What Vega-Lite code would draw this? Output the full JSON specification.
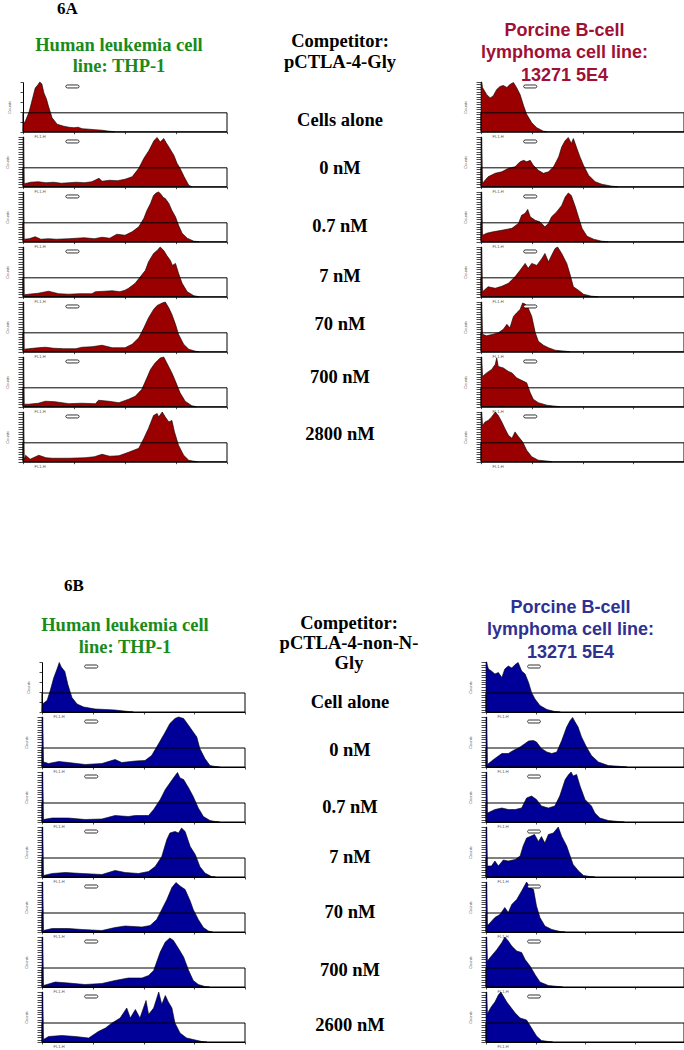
{
"$schema":"https://vega.github.io/schema/vega-lite/v6.json",
"padding":{"left":5,"top":0,"right":0,"bottom":0},
"background":"white",
"config":{
"view":{"stroke":null},
"font":"Liberation Sans",
"axis":{"labels":false,"grid":false,"domainColor":"#000","domainWidth":1,"tickColor":"#000","tickWidth":0.7,"titleFont":"Liberation Sans","titleFontSize":4,"titleFontWeight":"normal","titleColor":"#555"},
"axisX":{"tickCount":4,"tickSize":2,"titlePadding":0,"titleX":11,"titleAlign":"left"},
"axisY":{"tickCount":25,"tickSize":5,"titlePadding":8},
"title":{"font":"Liberation Serif","fontWeight":"bold","fontSize":18.5,"anchor":"middle","frame":"group","color":"#000"},
"text":{"font":"Liberation Serif","fontWeight":"bold","fontSize":18.5,"color":"#000"}
},
"datasets":{
"g":[{"gate":"M1"}],
"h":[
{"p":"AL1","x":0,"y":0},{"p":"AL1","x":0.01,"y":16},{"p":"AL1","x":0.05,"y":22},{"p":"AL1","x":0.12,"y":40},{"p":"AL1","x":0.18,"y":64},{"p":"AL1","x":0.24,"y":88},{"p":"AL1","x":0.29,"y":94},{"p":"AL1","x":0.33,"y":100},{"p":"AL1","x":0.37,"y":96},{"p":"AL1","x":0.41,"y":78},{"p":"AL1","x":0.46,"y":66},{"p":"AL1","x":0.5,"y":51},{"p":"AL1","x":0.57,"y":28},{"p":"AL1","x":0.67,"y":15},{"p":"AL1","x":0.8,"y":11},{"p":"AL1","x":0.9,"y":9},{"p":"AL1","x":1.0,"y":8},{"p":"AL1","x":1.08,"y":9},{"p":"AL1","x":1.16,"y":6},{"p":"AL1","x":1.3,"y":5},{"p":"AL1","x":1.42,"y":4},{"p":"AL1","x":1.55,"y":3},{"p":"AL1","x":1.69,"y":1},{"p":"AL1","x":1.8,"y":0},
{"p":"AL2","x":0,"y":100},{"p":"AL2","x":0.015,"y":100},{"p":"AL2","x":0.025,"y":6},{"p":"AL2","x":0.15,"y":9},{"p":"AL2","x":0.3,"y":10},{"p":"AL2","x":0.45,"y":8},{"p":"AL2","x":0.6,"y":9},{"p":"AL2","x":0.75,"y":7},{"p":"AL2","x":0.9,"y":8},{"p":"AL2","x":1.05,"y":9},{"p":"AL2","x":1.2,"y":8},{"p":"AL2","x":1.35,"y":10},{"p":"AL2","x":1.49,"y":17},{"p":"AL2","x":1.55,"y":11},{"p":"AL2","x":1.7,"y":13},{"p":"AL2","x":1.85,"y":12},{"p":"AL2","x":2.0,"y":15},{"p":"AL2","x":2.14,"y":20},{"p":"AL2","x":2.27,"y":37},{"p":"AL2","x":2.37,"y":57},{"p":"AL2","x":2.47,"y":73},{"p":"AL2","x":2.57,"y":93},{"p":"AL2","x":2.63,"y":99},{"p":"AL2","x":2.69,"y":90},{"p":"AL2","x":2.76,"y":97},{"p":"AL2","x":2.81,"y":88},{"p":"AL2","x":2.86,"y":80},{"p":"AL2","x":2.96,"y":63},{"p":"AL2","x":3.02,"y":47},{"p":"AL2","x":3.08,"y":37},{"p":"AL2","x":3.16,"y":20},{"p":"AL2","x":3.25,"y":3},{"p":"AL2","x":3.31,"y":0},
{"p":"AL3","x":0,"y":100},{"p":"AL3","x":0.015,"y":100},{"p":"AL3","x":0.025,"y":5},{"p":"AL3","x":0.12,"y":6},{"p":"AL3","x":0.24,"y":10},{"p":"AL3","x":0.35,"y":5},{"p":"AL3","x":0.5,"y":6},{"p":"AL3","x":0.65,"y":5},{"p":"AL3","x":0.9,"y":6},{"p":"AL3","x":1.05,"y":7},{"p":"AL3","x":1.2,"y":8},{"p":"AL3","x":1.4,"y":6},{"p":"AL3","x":1.55,"y":9},{"p":"AL3","x":1.7,"y":7},{"p":"AL3","x":1.84,"y":15},{"p":"AL3","x":2.0,"y":13},{"p":"AL3","x":2.14,"y":20},{"p":"AL3","x":2.27,"y":30},{"p":"AL3","x":2.37,"y":47},{"p":"AL3","x":2.43,"y":63},{"p":"AL3","x":2.5,"y":77},{"p":"AL3","x":2.56,"y":93},{"p":"AL3","x":2.61,"y":98},{"p":"AL3","x":2.66,"y":100},{"p":"AL3","x":2.71,"y":95},{"p":"AL3","x":2.75,"y":89},{"p":"AL3","x":2.79,"y":87},{"p":"AL3","x":2.86,"y":77},{"p":"AL3","x":2.92,"y":63},{"p":"AL3","x":2.99,"y":50},{"p":"AL3","x":3.05,"y":33},{"p":"AL3","x":3.12,"y":17},{"p":"AL3","x":3.22,"y":7},{"p":"AL3","x":3.35,"y":1},{"p":"AL3","x":3.45,"y":0},
{"p":"AL4","x":0,"y":100},{"p":"AL4","x":0.015,"y":100},{"p":"AL4","x":0.025,"y":4},{"p":"AL4","x":0.11,"y":5},{"p":"AL4","x":0.3,"y":7},{"p":"AL4","x":0.5,"y":11},{"p":"AL4","x":0.7,"y":6},{"p":"AL4","x":0.9,"y":5},{"p":"AL4","x":1.1,"y":6},{"p":"AL4","x":1.35,"y":6},{"p":"AL4","x":1.42,"y":10},{"p":"AL4","x":1.6,"y":11},{"p":"AL4","x":1.75,"y":12},{"p":"AL4","x":1.9,"y":10},{"p":"AL4","x":2.0,"y":13},{"p":"AL4","x":2.07,"y":17},{"p":"AL4","x":2.2,"y":27},{"p":"AL4","x":2.3,"y":40},{"p":"AL4","x":2.4,"y":53},{"p":"AL4","x":2.46,"y":70},{"p":"AL4","x":2.56,"y":87},{"p":"AL4","x":2.63,"y":93},{"p":"AL4","x":2.69,"y":100},{"p":"AL4","x":2.76,"y":93},{"p":"AL4","x":2.82,"y":83},{"p":"AL4","x":2.89,"y":73},{"p":"AL4","x":2.93,"y":63},{"p":"AL4","x":2.99,"y":67},{"p":"AL4","x":3.05,"y":47},{"p":"AL4","x":3.12,"y":27},{"p":"AL4","x":3.22,"y":10},{"p":"AL4","x":3.35,"y":2},{"p":"AL4","x":3.45,"y":0},
{"p":"AL5","x":0,"y":100},{"p":"AL5","x":0.015,"y":100},{"p":"AL5","x":0.025,"y":5},{"p":"AL5","x":0.11,"y":6},{"p":"AL5","x":0.3,"y":8},{"p":"AL5","x":0.44,"y":9},{"p":"AL5","x":0.6,"y":7},{"p":"AL5","x":0.8,"y":6},{"p":"AL5","x":1.03,"y":6},{"p":"AL5","x":1.16,"y":9},{"p":"AL5","x":1.35,"y":10},{"p":"AL5","x":1.55,"y":13},{"p":"AL5","x":1.75,"y":8},{"p":"AL5","x":2.0,"y":8},{"p":"AL5","x":2.14,"y":15},{"p":"AL5","x":2.27,"y":28},{"p":"AL5","x":2.37,"y":48},{"p":"AL5","x":2.46,"y":68},{"p":"AL5","x":2.56,"y":85},{"p":"AL5","x":2.63,"y":93},{"p":"AL5","x":2.73,"y":98},{"p":"AL5","x":2.79,"y":100},{"p":"AL5","x":2.86,"y":88},{"p":"AL5","x":2.92,"y":75},{"p":"AL5","x":2.99,"y":55},{"p":"AL5","x":3.05,"y":35},{"p":"AL5","x":3.15,"y":15},{"p":"AL5","x":3.25,"y":5},{"p":"AL5","x":3.38,"y":1},{"p":"AL5","x":3.45,"y":0},
{"p":"AL6","x":0,"y":100},{"p":"AL6","x":0.015,"y":100},{"p":"AL6","x":0.025,"y":5},{"p":"AL6","x":0.11,"y":5},{"p":"AL6","x":0.3,"y":7},{"p":"AL6","x":0.44,"y":11},{"p":"AL6","x":0.63,"y":10},{"p":"AL6","x":0.9,"y":6},{"p":"AL6","x":1.15,"y":7},{"p":"AL6","x":1.42,"y":6},{"p":"AL6","x":1.48,"y":13},{"p":"AL6","x":1.68,"y":11},{"p":"AL6","x":1.88,"y":8},{"p":"AL6","x":2.07,"y":15},{"p":"AL6","x":2.2,"y":21},{"p":"AL6","x":2.33,"y":35},{"p":"AL6","x":2.43,"y":58},{"p":"AL6","x":2.5,"y":75},{"p":"AL6","x":2.59,"y":88},{"p":"AL6","x":2.69,"y":98},{"p":"AL6","x":2.76,"y":100},{"p":"AL6","x":2.82,"y":88},{"p":"AL6","x":2.92,"y":68},{"p":"AL6","x":2.99,"y":51},{"p":"AL6","x":3.08,"y":28},{"p":"AL6","x":3.18,"y":11},{"p":"AL6","x":3.31,"y":2},{"p":"AL6","x":3.4,"y":0},
{"p":"AL7","x":0,"y":100},{"p":"AL7","x":0.015,"y":100},{"p":"AL7","x":0.025,"y":4},{"p":"AL7","x":0.05,"y":13},{"p":"AL7","x":0.14,"y":5},{"p":"AL7","x":0.31,"y":13},{"p":"AL7","x":0.45,"y":8},{"p":"AL7","x":0.57,"y":7},{"p":"AL7","x":0.9,"y":7},{"p":"AL7","x":1.22,"y":8},{"p":"AL7","x":1.4,"y":10},{"p":"AL7","x":1.55,"y":15},{"p":"AL7","x":1.7,"y":11},{"p":"AL7","x":1.88,"y":12},{"p":"AL7","x":2.07,"y":19},{"p":"AL7","x":2.27,"y":27},{"p":"AL7","x":2.37,"y":47},{"p":"AL7","x":2.46,"y":67},{"p":"AL7","x":2.56,"y":93},{"p":"AL7","x":2.63,"y":97},{"p":"AL7","x":2.66,"y":90},{"p":"AL7","x":2.73,"y":100},{"p":"AL7","x":2.79,"y":90},{"p":"AL7","x":2.86,"y":80},{"p":"AL7","x":2.92,"y":83},{"p":"AL7","x":2.97,"y":60},{"p":"AL7","x":3.05,"y":33},{"p":"AL7","x":3.15,"y":13},{"p":"AL7","x":3.25,"y":3},{"p":"AL7","x":3.35,"y":1},{"p":"AL7","x":3.42,"y":0},
{"p":"AR1","x":0,"y":100},{"p":"AR1","x":0.015,"y":100},{"p":"AR1","x":0.03,"y":89},{"p":"AR1","x":0.11,"y":75},{"p":"AR1","x":0.18,"y":68},{"p":"AR1","x":0.24,"y":72},{"p":"AR1","x":0.31,"y":85},{"p":"AR1","x":0.375,"y":91},{"p":"AR1","x":0.44,"y":93},{"p":"AR1","x":0.51,"y":89},{"p":"AR1","x":0.57,"y":95},{"p":"AR1","x":0.64,"y":99},{"p":"AR1","x":0.7,"y":89},{"p":"AR1","x":0.77,"y":75},{"p":"AR1","x":0.84,"y":52},{"p":"AR1","x":0.9,"y":35},{"p":"AR1","x":1.0,"y":18},{"p":"AR1","x":1.1,"y":8},{"p":"AR1","x":1.23,"y":1},{"p":"AR1","x":1.3,"y":0},
{"p":"AR2","x":0,"y":100},{"p":"AR2","x":0.015,"y":100},{"p":"AR2","x":0.03,"y":7},{"p":"AR2","x":0.14,"y":20},{"p":"AR2","x":0.28,"y":27},{"p":"AR2","x":0.41,"y":30},{"p":"AR2","x":0.54,"y":37},{"p":"AR2","x":0.67,"y":40},{"p":"AR2","x":0.77,"y":50},{"p":"AR2","x":0.84,"y":53},{"p":"AR2","x":0.9,"y":50},{"p":"AR2","x":0.97,"y":53},{"p":"AR2","x":1.03,"y":43},{"p":"AR2","x":1.13,"y":33},{"p":"AR2","x":1.23,"y":27},{"p":"AR2","x":1.33,"y":30},{"p":"AR2","x":1.43,"y":40},{"p":"AR2","x":1.53,"y":60},{"p":"AR2","x":1.59,"y":80},{"p":"AR2","x":1.66,"y":93},{"p":"AR2","x":1.72,"y":99},{"p":"AR2","x":1.78,"y":87},{"p":"AR2","x":1.82,"y":97},{"p":"AR2","x":1.89,"y":77},{"p":"AR2","x":1.95,"y":60},{"p":"AR2","x":2.02,"y":43},{"p":"AR2","x":2.12,"y":23},{"p":"AR2","x":2.25,"y":10},{"p":"AR2","x":2.38,"y":5},{"p":"AR2","x":2.58,"y":1},{"p":"AR2","x":2.7,"y":0},
{"p":"AR3","x":0,"y":100},{"p":"AR3","x":0.015,"y":100},{"p":"AR3","x":0.03,"y":13},{"p":"AR3","x":0.11,"y":17},{"p":"AR3","x":0.24,"y":20},{"p":"AR3","x":0.41,"y":23},{"p":"AR3","x":0.61,"y":27},{"p":"AR3","x":0.74,"y":37},{"p":"AR3","x":0.8,"y":53},{"p":"AR3","x":0.87,"y":57},{"p":"AR3","x":0.92,"y":65},{"p":"AR3","x":0.97,"y":50},{"p":"AR3","x":1.07,"y":43},{"p":"AR3","x":1.16,"y":40},{"p":"AR3","x":1.26,"y":30},{"p":"AR3","x":1.33,"y":37},{"p":"AR3","x":1.39,"y":50},{"p":"AR3","x":1.49,"y":60},{"p":"AR3","x":1.59,"y":73},{"p":"AR3","x":1.66,"y":90},{"p":"AR3","x":1.72,"y":98},{"p":"AR3","x":1.78,"y":93},{"p":"AR3","x":1.86,"y":70},{"p":"AR3","x":1.92,"y":50},{"p":"AR3","x":1.99,"y":27},{"p":"AR3","x":2.09,"y":11},{"p":"AR3","x":2.22,"y":5},{"p":"AR3","x":2.38,"y":1},{"p":"AR3","x":2.5,"y":0},
{"p":"AR4","x":0,"y":100},{"p":"AR4","x":0.015,"y":100},{"p":"AR4","x":0.03,"y":10},{"p":"AR4","x":0.14,"y":20},{"p":"AR4","x":0.28,"y":17},{"p":"AR4","x":0.41,"y":21},{"p":"AR4","x":0.54,"y":27},{"p":"AR4","x":0.67,"y":40},{"p":"AR4","x":0.77,"y":53},{"p":"AR4","x":0.87,"y":67},{"p":"AR4","x":0.93,"y":57},{"p":"AR4","x":1.0,"y":67},{"p":"AR4","x":1.1,"y":63},{"p":"AR4","x":1.2,"y":77},{"p":"AR4","x":1.26,"y":87},{"p":"AR4","x":1.33,"y":70},{"p":"AR4","x":1.39,"y":83},{"p":"AR4","x":1.46,"y":97},{"p":"AR4","x":1.51,"y":100},{"p":"AR4","x":1.59,"y":87},{"p":"AR4","x":1.69,"y":67},{"p":"AR4","x":1.76,"y":43},{"p":"AR4","x":1.82,"y":20},{"p":"AR4","x":1.92,"y":13},{"p":"AR4","x":2.02,"y":5},{"p":"AR4","x":2.18,"y":1},{"p":"AR4","x":2.3,"y":0},
{"p":"AR5","x":0,"y":100},{"p":"AR5","x":0.015,"y":100},{"p":"AR5","x":0.03,"y":35},{"p":"AR5","x":0.11,"y":32},{"p":"AR5","x":0.24,"y":35},{"p":"AR5","x":0.34,"y":38},{"p":"AR5","x":0.44,"y":45},{"p":"AR5","x":0.51,"y":55},{"p":"AR5","x":0.57,"y":48},{"p":"AR5","x":0.64,"y":71},{"p":"AR5","x":0.7,"y":78},{"p":"AR5","x":0.77,"y":85},{"p":"AR5","x":0.82,"y":98},{"p":"AR5","x":0.87,"y":96},{"p":"AR5","x":0.93,"y":88},{"p":"AR5","x":1.0,"y":71},{"p":"AR5","x":1.07,"y":38},{"p":"AR5","x":1.13,"y":21},{"p":"AR5","x":1.23,"y":13},{"p":"AR5","x":1.33,"y":8},{"p":"AR5","x":1.46,"y":3},{"p":"AR5","x":1.66,"y":1},{"p":"AR5","x":1.75,"y":0},
{"p":"AR6","x":0,"y":100},{"p":"AR6","x":0.015,"y":100},{"p":"AR6","x":0.03,"y":61},{"p":"AR6","x":0.11,"y":68},{"p":"AR6","x":0.21,"y":75},{"p":"AR6","x":0.28,"y":85},{"p":"AR6","x":0.31,"y":98},{"p":"AR6","x":0.34,"y":81},{"p":"AR6","x":0.44,"y":78},{"p":"AR6","x":0.54,"y":71},{"p":"AR6","x":0.61,"y":68},{"p":"AR6","x":0.7,"y":58},{"p":"AR6","x":0.8,"y":53},{"p":"AR6","x":0.9,"y":48},{"p":"AR6","x":0.97,"y":28},{"p":"AR6","x":1.03,"y":15},{"p":"AR6","x":1.13,"y":8},{"p":"AR6","x":1.3,"y":3},{"p":"AR6","x":1.46,"y":1},{"p":"AR6","x":1.55,"y":0},
{"p":"AR7","x":0,"y":100},{"p":"AR7","x":0.015,"y":100},{"p":"AR7","x":0.03,"y":73},{"p":"AR7","x":0.08,"y":80},{"p":"AR7","x":0.14,"y":83},{"p":"AR7","x":0.21,"y":90},{"p":"AR7","x":0.28,"y":100},{"p":"AR7","x":0.34,"y":93},{"p":"AR7","x":0.41,"y":80},{"p":"AR7","x":0.47,"y":67},{"p":"AR7","x":0.54,"y":53},{"p":"AR7","x":0.61,"y":47},{"p":"AR7","x":0.67,"y":60},{"p":"AR7","x":0.74,"y":50},{"p":"AR7","x":0.82,"y":40},{"p":"AR7","x":0.9,"y":23},{"p":"AR7","x":1.0,"y":10},{"p":"AR7","x":1.13,"y":3},{"p":"AR7","x":1.33,"y":1},{"p":"AR7","x":1.4,"y":0},
{"p":"BL1","x":0,"y":0},{"p":"BL1","x":0.01,"y":16},{"p":"BL1","x":0.1,"y":23},{"p":"BL1","x":0.16,"y":42},{"p":"BL1","x":0.23,"y":68},{"p":"BL1","x":0.3,"y":87},{"p":"BL1","x":0.34,"y":99},{"p":"BL1","x":0.38,"y":90},{"p":"BL1","x":0.45,"y":81},{"p":"BL1","x":0.51,"y":55},{"p":"BL1","x":0.59,"y":29},{"p":"BL1","x":0.69,"y":16},{"p":"BL1","x":0.82,"y":10},{"p":"BL1","x":1.05,"y":6},{"p":"BL1","x":1.25,"y":5},{"p":"BL1","x":1.44,"y":4},{"p":"BL1","x":1.7,"y":1},{"p":"BL1","x":1.8,"y":0},
{"p":"BL2","x":0,"y":100},{"p":"BL2","x":0.015,"y":100},{"p":"BL2","x":0.03,"y":10},{"p":"BL2","x":0.13,"y":7},{"p":"BL2","x":0.33,"y":11},{"p":"BL2","x":0.52,"y":9},{"p":"BL2","x":0.85,"y":5},{"p":"BL2","x":1.18,"y":7},{"p":"BL2","x":1.44,"y":15},{"p":"BL2","x":1.57,"y":9},{"p":"BL2","x":1.84,"y":12},{"p":"BL2","x":2.03,"y":13},{"p":"BL2","x":2.16,"y":23},{"p":"BL2","x":2.3,"y":47},{"p":"BL2","x":2.43,"y":70},{"p":"BL2","x":2.52,"y":87},{"p":"BL2","x":2.62,"y":97},{"p":"BL2","x":2.69,"y":100},{"p":"BL2","x":2.79,"y":97},{"p":"BL2","x":2.89,"y":83},{"p":"BL2","x":2.98,"y":70},{"p":"BL2","x":3.05,"y":60},{"p":"BL2","x":3.11,"y":37},{"p":"BL2","x":3.21,"y":17},{"p":"BL2","x":3.31,"y":3},{"p":"BL2","x":3.41,"y":1},{"p":"BL2","x":3.5,"y":0},
{"p":"BL3","x":0,"y":100},{"p":"BL3","x":0.015,"y":100},{"p":"BL3","x":0.03,"y":5},{"p":"BL3","x":0.2,"y":8},{"p":"BL3","x":0.52,"y":8},{"p":"BL3","x":0.85,"y":5},{"p":"BL3","x":1.18,"y":6},{"p":"BL3","x":1.44,"y":13},{"p":"BL3","x":1.7,"y":11},{"p":"BL3","x":1.84,"y":13},{"p":"BL3","x":2.1,"y":13},{"p":"BL3","x":2.2,"y":25},{"p":"BL3","x":2.33,"y":45},{"p":"BL3","x":2.43,"y":65},{"p":"BL3","x":2.52,"y":78},{"p":"BL3","x":2.61,"y":91},{"p":"BL3","x":2.67,"y":99},{"p":"BL3","x":2.72,"y":88},{"p":"BL3","x":2.79,"y":85},{"p":"BL3","x":2.89,"y":68},{"p":"BL3","x":2.98,"y":51},{"p":"BL3","x":3.08,"y":28},{"p":"BL3","x":3.18,"y":11},{"p":"BL3","x":3.31,"y":3},{"p":"BL3","x":3.41,"y":1},{"p":"BL3","x":3.5,"y":0},
{"p":"BL4","x":0,"y":100},{"p":"BL4","x":0.015,"y":100},{"p":"BL4","x":0.03,"y":3},{"p":"BL4","x":0.2,"y":7},{"p":"BL4","x":0.46,"y":9},{"p":"BL4","x":0.79,"y":7},{"p":"BL4","x":1.18,"y":5},{"p":"BL4","x":1.44,"y":13},{"p":"BL4","x":1.64,"y":9},{"p":"BL4","x":1.9,"y":7},{"p":"BL4","x":2.1,"y":11},{"p":"BL4","x":2.23,"y":21},{"p":"BL4","x":2.36,"y":41},{"p":"BL4","x":2.46,"y":75},{"p":"BL4","x":2.52,"y":88},{"p":"BL4","x":2.62,"y":91},{"p":"BL4","x":2.69,"y":88},{"p":"BL4","x":2.75,"y":98},{"p":"BL4","x":2.82,"y":91},{"p":"BL4","x":2.92,"y":61},{"p":"BL4","x":3.02,"y":45},{"p":"BL4","x":3.11,"y":21},{"p":"BL4","x":3.21,"y":8},{"p":"BL4","x":3.34,"y":1},{"p":"BL4","x":3.42,"y":0},
{"p":"BL5","x":0,"y":100},{"p":"BL5","x":0.015,"y":100},{"p":"BL5","x":0.03,"y":3},{"p":"BL5","x":0.2,"y":7},{"p":"BL5","x":0.52,"y":7},{"p":"BL5","x":0.79,"y":5},{"p":"BL5","x":1.18,"y":3},{"p":"BL5","x":1.44,"y":9},{"p":"BL5","x":1.64,"y":12},{"p":"BL5","x":1.97,"y":10},{"p":"BL5","x":2.13,"y":13},{"p":"BL5","x":2.26,"y":25},{"p":"BL5","x":2.36,"y":45},{"p":"BL5","x":2.46,"y":65},{"p":"BL5","x":2.56,"y":89},{"p":"BL5","x":2.64,"y":99},{"p":"BL5","x":2.72,"y":92},{"p":"BL5","x":2.82,"y":85},{"p":"BL5","x":2.92,"y":62},{"p":"BL5","x":2.98,"y":45},{"p":"BL5","x":3.08,"y":25},{"p":"BL5","x":3.18,"y":9},{"p":"BL5","x":3.28,"y":2},{"p":"BL5","x":3.36,"y":0},
{"p":"BL6","x":0,"y":100},{"p":"BL6","x":0.015,"y":100},{"p":"BL6","x":0.03,"y":3},{"p":"BL6","x":0.26,"y":10},{"p":"BL6","x":0.52,"y":8},{"p":"BL6","x":0.85,"y":5},{"p":"BL6","x":1.18,"y":7},{"p":"BL6","x":1.44,"y":13},{"p":"BL6","x":1.7,"y":18},{"p":"BL6","x":1.97,"y":18},{"p":"BL6","x":2.1,"y":23},{"p":"BL6","x":2.2,"y":33},{"p":"BL6","x":2.26,"y":50},{"p":"BL6","x":2.33,"y":70},{"p":"BL6","x":2.43,"y":90},{"p":"BL6","x":2.52,"y":98},{"p":"BL6","x":2.59,"y":93},{"p":"BL6","x":2.69,"y":77},{"p":"BL6","x":2.79,"y":60},{"p":"BL6","x":2.89,"y":33},{"p":"BL6","x":2.98,"y":13},{"p":"BL6","x":3.08,"y":5},{"p":"BL6","x":3.21,"y":1},{"p":"BL6","x":3.3,"y":0},
{"p":"BL7","x":0,"y":100},{"p":"BL7","x":0.015,"y":100},{"p":"BL7","x":0.03,"y":5},{"p":"BL7","x":0.13,"y":11},{"p":"BL7","x":0.39,"y":13},{"p":"BL7","x":0.66,"y":11},{"p":"BL7","x":0.92,"y":8},{"p":"BL7","x":1.11,"y":21},{"p":"BL7","x":1.25,"y":28},{"p":"BL7","x":1.38,"y":38},{"p":"BL7","x":1.54,"y":48},{"p":"BL7","x":1.67,"y":68},{"p":"BL7","x":1.74,"y":48},{"p":"BL7","x":1.84,"y":65},{"p":"BL7","x":1.93,"y":48},{"p":"BL7","x":2.05,"y":83},{"p":"BL7","x":2.1,"y":55},{"p":"BL7","x":2.2,"y":68},{"p":"BL7","x":2.3,"y":100},{"p":"BL7","x":2.36,"y":75},{"p":"BL7","x":2.43,"y":93},{"p":"BL7","x":2.49,"y":80},{"p":"BL7","x":2.56,"y":68},{"p":"BL7","x":2.62,"y":38},{"p":"BL7","x":2.72,"y":18},{"p":"BL7","x":2.85,"y":8},{"p":"BL7","x":2.98,"y":5},{"p":"BL7","x":3.15,"y":1},{"p":"BL7","x":3.25,"y":0},
{"p":"BR1","x":0,"y":100},{"p":"BR1","x":0.015,"y":100},{"p":"BR1","x":0.03,"y":92},{"p":"BR1","x":0.05,"y":86},{"p":"BR1","x":0.11,"y":82},{"p":"BR1","x":0.18,"y":76},{"p":"BR1","x":0.25,"y":79},{"p":"BR1","x":0.32,"y":69},{"p":"BR1","x":0.38,"y":86},{"p":"BR1","x":0.45,"y":92},{"p":"BR1","x":0.52,"y":88},{"p":"BR1","x":0.59,"y":95},{"p":"BR1","x":0.65,"y":99},{"p":"BR1","x":0.72,"y":82},{"p":"BR1","x":0.79,"y":76},{"p":"BR1","x":0.86,"y":59},{"p":"BR1","x":0.92,"y":39},{"p":"BR1","x":0.99,"y":26},{"p":"BR1","x":1.09,"y":13},{"p":"BR1","x":1.23,"y":5},{"p":"BR1","x":1.39,"y":1},{"p":"BR1","x":1.5,"y":0},
{"p":"BR2","x":0,"y":100},{"p":"BR2","x":0.015,"y":100},{"p":"BR2","x":0.03,"y":5},{"p":"BR2","x":0.05,"y":7},{"p":"BR2","x":0.18,"y":17},{"p":"BR2","x":0.32,"y":27},{"p":"BR2","x":0.45,"y":27},{"p":"BR2","x":0.55,"y":33},{"p":"BR2","x":0.69,"y":40},{"p":"BR2","x":0.79,"y":47},{"p":"BR2","x":0.86,"y":52},{"p":"BR2","x":0.96,"y":53},{"p":"BR2","x":1.02,"y":50},{"p":"BR2","x":1.12,"y":37},{"p":"BR2","x":1.23,"y":30},{"p":"BR2","x":1.33,"y":27},{"p":"BR2","x":1.43,"y":30},{"p":"BR2","x":1.53,"y":53},{"p":"BR2","x":1.63,"y":80},{"p":"BR2","x":1.7,"y":93},{"p":"BR2","x":1.75,"y":99},{"p":"BR2","x":1.8,"y":90},{"p":"BR2","x":1.86,"y":80},{"p":"BR2","x":1.93,"y":60},{"p":"BR2","x":2.03,"y":40},{"p":"BR2","x":2.13,"y":23},{"p":"BR2","x":2.27,"y":10},{"p":"BR2","x":2.47,"y":3},{"p":"BR2","x":2.74,"y":1},{"p":"BR2","x":2.85,"y":0},
{"p":"BR3","x":0,"y":100},{"p":"BR3","x":0.015,"y":100},{"p":"BR3","x":0.03,"y":18},{"p":"BR3","x":0.18,"y":25},{"p":"BR3","x":0.32,"y":28},{"p":"BR3","x":0.45,"y":25},{"p":"BR3","x":0.59,"y":25},{"p":"BR3","x":0.72,"y":28},{"p":"BR3","x":0.82,"y":48},{"p":"BR3","x":0.92,"y":52},{"p":"BR3","x":1.02,"y":45},{"p":"BR3","x":1.12,"y":32},{"p":"BR3","x":1.26,"y":28},{"p":"BR3","x":1.39,"y":32},{"p":"BR3","x":1.49,"y":52},{"p":"BR3","x":1.6,"y":85},{"p":"BR3","x":1.67,"y":95},{"p":"BR3","x":1.72,"y":100},{"p":"BR3","x":1.76,"y":92},{"p":"BR3","x":1.83,"y":95},{"p":"BR3","x":1.9,"y":72},{"p":"BR3","x":2.0,"y":45},{"p":"BR3","x":2.13,"y":32},{"p":"BR3","x":2.2,"y":18},{"p":"BR3","x":2.3,"y":8},{"p":"BR3","x":2.47,"y":3},{"p":"BR3","x":2.67,"y":1},{"p":"BR3","x":2.8,"y":0},
{"p":"BR4","x":0,"y":100},{"p":"BR4","x":0.015,"y":100},{"p":"BR4","x":0.03,"y":22},{"p":"BR4","x":0.11,"y":22},{"p":"BR4","x":0.18,"y":32},{"p":"BR4","x":0.25,"y":22},{"p":"BR4","x":0.35,"y":34},{"p":"BR4","x":0.45,"y":32},{"p":"BR4","x":0.59,"y":35},{"p":"BR4","x":0.69,"y":42},{"p":"BR4","x":0.75,"y":62},{"p":"BR4","x":0.82,"y":78},{"p":"BR4","x":0.89,"y":81},{"p":"BR4","x":0.98,"y":85},{"p":"BR4","x":1.06,"y":71},{"p":"BR4","x":1.12,"y":81},{"p":"BR4","x":1.19,"y":68},{"p":"BR4","x":1.26,"y":85},{"p":"BR4","x":1.36,"y":88},{"p":"BR4","x":1.46,"y":100},{"p":"BR4","x":1.53,"y":81},{"p":"BR4","x":1.63,"y":62},{"p":"BR4","x":1.7,"y":42},{"p":"BR4","x":1.76,"y":25},{"p":"BR4","x":1.87,"y":12},{"p":"BR4","x":1.97,"y":3},{"p":"BR4","x":2.1,"y":1},{"p":"BR4","x":2.2,"y":0},
{"p":"BR5","x":0,"y":100},{"p":"BR5","x":0.015,"y":100},{"p":"BR5","x":0.03,"y":15},{"p":"BR5","x":0.05,"y":15},{"p":"BR5","x":0.18,"y":29},{"p":"BR5","x":0.28,"y":35},{"p":"BR5","x":0.38,"y":49},{"p":"BR5","x":0.45,"y":39},{"p":"BR5","x":0.52,"y":55},{"p":"BR5","x":0.62,"y":65},{"p":"BR5","x":0.72,"y":82},{"p":"BR5","x":0.82,"y":100},{"p":"BR5","x":0.89,"y":89},{"p":"BR5","x":0.96,"y":85},{"p":"BR5","x":1.02,"y":52},{"p":"BR5","x":1.09,"y":29},{"p":"BR5","x":1.19,"y":12},{"p":"BR5","x":1.33,"y":5},{"p":"BR5","x":1.5,"y":1},{"p":"BR5","x":1.6,"y":0},
{"p":"BR6","x":0,"y":100},{"p":"BR6","x":0.015,"y":100},{"p":"BR6","x":0.03,"y":50},{"p":"BR6","x":0.05,"y":55},{"p":"BR6","x":0.11,"y":62},{"p":"BR6","x":0.22,"y":75},{"p":"BR6","x":0.32,"y":89},{"p":"BR6","x":0.38,"y":100},{"p":"BR6","x":0.45,"y":92},{"p":"BR6","x":0.52,"y":82},{"p":"BR6","x":0.62,"y":72},{"p":"BR6","x":0.72,"y":69},{"p":"BR6","x":0.79,"y":55},{"p":"BR6","x":0.89,"y":42},{"p":"BR6","x":0.99,"y":25},{"p":"BR6","x":1.09,"y":10},{"p":"BR6","x":1.26,"y":3},{"p":"BR6","x":1.46,"y":1},{"p":"BR6","x":1.55,"y":0},
{"p":"BR7","x":0,"y":100},{"p":"BR7","x":0.015,"y":100},{"p":"BR7","x":0.03,"y":55},{"p":"BR7","x":0.05,"y":61},{"p":"BR7","x":0.11,"y":71},{"p":"BR7","x":0.18,"y":80},{"p":"BR7","x":0.25,"y":94},{"p":"BR7","x":0.3,"y":100},{"p":"BR7","x":0.36,"y":90},{"p":"BR7","x":0.42,"y":80},{"p":"BR7","x":0.52,"y":67},{"p":"BR7","x":0.59,"y":58},{"p":"BR7","x":0.69,"y":48},{"p":"BR7","x":0.82,"y":44},{"p":"BR7","x":0.92,"y":28},{"p":"BR7","x":1.02,"y":12},{"p":"BR7","x":1.12,"y":3},{"p":"BR7","x":1.26,"y":1},{"p":"BR7","x":1.35,"y":0}
]},
"columns":4,
"align":"none",
"bounds":"flush",
"spacing":{"row":5,"column":0},
"concat":[
{"width":1,"height":49.7,"data":{"values":[]},"mark":"point","encoding":{},"title":{"text":"6A","anchor":"start","dx":35,"offset":64,"fontSize":17}},
{"width":222,"height":49.7,"title":{"text":["Human leukemia cell","line: THP-1"],"color":"#1a8a1a","lineHeight":21.5,"offset":5,"dx":-15},"data":{"name":"h"},"transform":[{"filter":"datum.p=='AL1'"}],"layer":[{"mark":{"type":"area","color":"#9b0000","stroke":"#000","strokeWidth":0.6},"encoding":{"x":{"field":"x","type":"quantitative","scale":{"domain":[0,4],"range":[0,204]},"axis":{"title":"FL1-H"}},"y":{"field":"y","type":"quantitative","scale":{"domain":[0,100]},"axis":{"title":"Counts","tickCount":4,"tickSize":3}}}},{"data":{"name":"g"},"mark":{"type":"rect","filled":false,"color":"#000","strokeWidth":1},"encoding":{"x":{"datum":0},"x2":{"datum":4},"y":{"datum":0},"y2":{"datum":38}}},{"data":{"name":"g"},"mark":{"type":"rect","fill":"#fff","stroke":"#000","strokeWidth":0.8,"cornerRadius":1.5},"encoding":{"x":{"datum":0.84},"x2":{"datum":1.1},"y":{"datum":88},"y2":{"datum":94}}}]},
{"width":236,"height":49.7,"title":{"text":["Competitor:","pCTLA-4-Gly"],"lineHeight":20.5,"offset":11,"dx":-23},"data":{"values":[{"t":"Cells alone"}]},"mark":{"type":"text","dx":-23,"dy":13},"encoding":{"text":{"field":"t"}}},
{"width":203,"height":49.7,"title":{"text":["Porcine B-cell","lymphoma cell line:","13271 5E4"],"color":"#9e1035","font":"Liberation Sans","fontSize":18,"lineHeight":22.5,"offset":-4,"dx":-18},"data":{"name":"h"},"transform":[{"filter":"datum.p=='AR1'"}],"layer":[{"mark":{"type":"area","color":"#9b0000","stroke":"#000","strokeWidth":0.6},"encoding":{"x":{"field":"x","type":"quantitative","scale":{"domain":[0,4]},"axis":{"title":"FL1-H"}},"y":{"field":"y","type":"quantitative","scale":{"domain":[0,100]},"axis":{"title":"Counts"}}}},{"data":{"name":"g"},"mark":{"type":"rect","filled":false,"color":"#000","strokeWidth":1},"encoding":{"x":{"datum":0},"x2":{"datum":4},"y":{"datum":0},"y2":{"datum":38}}},{"data":{"name":"g"},"mark":{"type":"rect","fill":"#fff","stroke":"#000","strokeWidth":0.8,"cornerRadius":1.5},"encoding":{"x":{"datum":0.84},"x2":{"datum":1.1},"y":{"datum":88},"y2":{"datum":94}}}]},

{"width":1,"height":49.7,"data":{"values":[]},"mark":"point","encoding":{}},
{"width":222,"height":49.7,"data":{"name":"h"},"transform":[{"filter":"datum.p=='AL2'"}],"layer":[{"mark":{"type":"area","color":"#9b0000","stroke":"#000","strokeWidth":0.6},"encoding":{"x":{"field":"x","type":"quantitative","scale":{"domain":[0,4],"range":[0,204]},"axis":{"title":"FL1-H"}},"y":{"field":"y","type":"quantitative","scale":{"domain":[0,100]},"axis":{"title":"Counts"}}}},{"data":{"name":"g"},"mark":{"type":"rect","filled":false,"color":"#000","strokeWidth":1},"encoding":{"x":{"datum":0},"x2":{"datum":4},"y":{"datum":0},"y2":{"datum":38}}},{"data":{"name":"g"},"mark":{"type":"rect","fill":"#fff","stroke":"#000","strokeWidth":0.8,"cornerRadius":1.5},"encoding":{"x":{"datum":0.84},"x2":{"datum":1.1},"y":{"datum":88},"y2":{"datum":94}}}]},
{"width":236,"height":49.7,"data":{"values":[{"t":"0 nM"}]},"mark":{"type":"text","dx":-23,"dy":6},"encoding":{"text":{"field":"t"}}},
{"width":203,"height":49.7,"data":{"name":"h"},"transform":[{"filter":"datum.p=='AR2'"}],"layer":[{"mark":{"type":"area","color":"#9b0000","stroke":"#000","strokeWidth":0.6},"encoding":{"x":{"field":"x","type":"quantitative","scale":{"domain":[0,4]},"axis":{"title":"FL1-H"}},"y":{"field":"y","type":"quantitative","scale":{"domain":[0,100]},"axis":{"title":"Counts"}}}},{"data":{"name":"g"},"mark":{"type":"rect","filled":false,"color":"#000","strokeWidth":1},"encoding":{"x":{"datum":0},"x2":{"datum":4},"y":{"datum":0},"y2":{"datum":38}}},{"data":{"name":"g"},"mark":{"type":"rect","fill":"#fff","stroke":"#000","strokeWidth":0.8,"cornerRadius":1.5},"encoding":{"x":{"datum":0.84},"x2":{"datum":1.1},"y":{"datum":88},"y2":{"datum":94}}}]},

{"width":1,"height":49.7,"data":{"values":[]},"mark":"point","encoding":{}},
{"width":222,"height":49.7,"data":{"name":"h"},"transform":[{"filter":"datum.p=='AL3'"}],"layer":[{"mark":{"type":"area","color":"#9b0000","stroke":"#000","strokeWidth":0.6},"encoding":{"x":{"field":"x","type":"quantitative","scale":{"domain":[0,4],"range":[0,204]},"axis":{"title":"FL1-H"}},"y":{"field":"y","type":"quantitative","scale":{"domain":[0,100]},"axis":{"title":"Counts"}}}},{"data":{"name":"g"},"mark":{"type":"rect","filled":false,"color":"#000","strokeWidth":1},"encoding":{"x":{"datum":0},"x2":{"datum":4},"y":{"datum":0},"y2":{"datum":38}}},{"data":{"name":"g"},"mark":{"type":"rect","fill":"#fff","stroke":"#000","strokeWidth":0.8,"cornerRadius":1.5},"encoding":{"x":{"datum":0.84},"x2":{"datum":1.1},"y":{"datum":88},"y2":{"datum":94}}}]},
{"width":236,"height":49.7,"data":{"values":[{"t":"0.7 nM"}]},"mark":{"type":"text","dx":-23,"dy":9},"encoding":{"text":{"field":"t"}}},
{"width":203,"height":49.7,"data":{"name":"h"},"transform":[{"filter":"datum.p=='AR3'"}],"layer":[{"mark":{"type":"area","color":"#9b0000","stroke":"#000","strokeWidth":0.6},"encoding":{"x":{"field":"x","type":"quantitative","scale":{"domain":[0,4]},"axis":{"title":"FL1-H"}},"y":{"field":"y","type":"quantitative","scale":{"domain":[0,100]},"axis":{"title":"Counts"}}}},{"data":{"name":"g"},"mark":{"type":"rect","filled":false,"color":"#000","strokeWidth":1},"encoding":{"x":{"datum":0},"x2":{"datum":4},"y":{"datum":0},"y2":{"datum":38}}},{"data":{"name":"g"},"mark":{"type":"rect","fill":"#fff","stroke":"#000","strokeWidth":0.8,"cornerRadius":1.5},"encoding":{"x":{"datum":0.84},"x2":{"datum":1.1},"y":{"datum":88},"y2":{"datum":94}}}]},

{"width":1,"height":49.7,"data":{"values":[]},"mark":"point","encoding":{}},
{"width":222,"height":49.7,"data":{"name":"h"},"transform":[{"filter":"datum.p=='AL4'"}],"layer":[{"mark":{"type":"area","color":"#9b0000","stroke":"#000","strokeWidth":0.6},"encoding":{"x":{"field":"x","type":"quantitative","scale":{"domain":[0,4],"range":[0,204]},"axis":{"title":"FL1-H"}},"y":{"field":"y","type":"quantitative","scale":{"domain":[0,100]},"axis":{"title":"Counts"}}}},{"data":{"name":"g"},"mark":{"type":"rect","filled":false,"color":"#000","strokeWidth":1},"encoding":{"x":{"datum":0},"x2":{"datum":4},"y":{"datum":0},"y2":{"datum":38}}},{"data":{"name":"g"},"mark":{"type":"rect","fill":"#fff","stroke":"#000","strokeWidth":0.8,"cornerRadius":1.5},"encoding":{"x":{"datum":0.84},"x2":{"datum":1.1},"y":{"datum":88},"y2":{"datum":94}}}]},
{"width":236,"height":49.7,"data":{"values":[{"t":"7 nM"}]},"mark":{"type":"text","dx":-23,"dy":4},"encoding":{"text":{"field":"t"}}},
{"width":203,"height":49.7,"data":{"name":"h"},"transform":[{"filter":"datum.p=='AR4'"}],"layer":[{"mark":{"type":"area","color":"#9b0000","stroke":"#000","strokeWidth":0.6},"encoding":{"x":{"field":"x","type":"quantitative","scale":{"domain":[0,4]},"axis":{"title":"FL1-H"}},"y":{"field":"y","type":"quantitative","scale":{"domain":[0,100]},"axis":{"title":"Counts"}}}},{"data":{"name":"g"},"mark":{"type":"rect","filled":false,"color":"#000","strokeWidth":1},"encoding":{"x":{"datum":0},"x2":{"datum":4},"y":{"datum":0},"y2":{"datum":38}}},{"data":{"name":"g"},"mark":{"type":"rect","fill":"#fff","stroke":"#000","strokeWidth":0.8,"cornerRadius":1.5},"encoding":{"x":{"datum":0.84},"x2":{"datum":1.1},"y":{"datum":88},"y2":{"datum":94}}}]},

{"width":1,"height":49.7,"data":{"values":[]},"mark":"point","encoding":{}},
{"width":222,"height":49.7,"data":{"name":"h"},"transform":[{"filter":"datum.p=='AL5'"}],"layer":[{"mark":{"type":"area","color":"#9b0000","stroke":"#000","strokeWidth":0.6},"encoding":{"x":{"field":"x","type":"quantitative","scale":{"domain":[0,4],"range":[0,204]},"axis":{"title":"FL1-H"}},"y":{"field":"y","type":"quantitative","scale":{"domain":[0,100]},"axis":{"title":"Counts"}}}},{"data":{"name":"g"},"mark":{"type":"rect","filled":false,"color":"#000","strokeWidth":1},"encoding":{"x":{"datum":0},"x2":{"datum":4},"y":{"datum":0},"y2":{"datum":38}}},{"data":{"name":"g"},"mark":{"type":"rect","fill":"#fff","stroke":"#000","strokeWidth":0.8,"cornerRadius":1.5},"encoding":{"x":{"datum":0.84},"x2":{"datum":1.1},"y":{"datum":88},"y2":{"datum":94}}}]},
{"width":236,"height":49.7,"data":{"values":[{"t":"70 nM"}]},"mark":{"type":"text","dx":-23,"dy":-3},"encoding":{"text":{"field":"t"}}},
{"width":203,"height":49.7,"data":{"name":"h"},"transform":[{"filter":"datum.p=='AR5'"}],"layer":[{"mark":{"type":"area","color":"#9b0000","stroke":"#000","strokeWidth":0.6},"encoding":{"x":{"field":"x","type":"quantitative","scale":{"domain":[0,4]},"axis":{"title":"FL1-H"}},"y":{"field":"y","type":"quantitative","scale":{"domain":[0,100]},"axis":{"title":"Counts"}}}},{"data":{"name":"g"},"mark":{"type":"rect","filled":false,"color":"#000","strokeWidth":1},"encoding":{"x":{"datum":0},"x2":{"datum":4},"y":{"datum":0},"y2":{"datum":38}}},{"data":{"name":"g"},"mark":{"type":"rect","fill":"#fff","stroke":"#000","strokeWidth":0.8,"cornerRadius":1.5},"encoding":{"x":{"datum":0.84},"x2":{"datum":1.1},"y":{"datum":88},"y2":{"datum":94}}}]},

{"width":1,"height":49.7,"data":{"values":[]},"mark":"point","encoding":{}},
{"width":222,"height":49.7,"data":{"name":"h"},"transform":[{"filter":"datum.p=='AL6'"}],"layer":[{"mark":{"type":"area","color":"#9b0000","stroke":"#000","strokeWidth":0.6},"encoding":{"x":{"field":"x","type":"quantitative","scale":{"domain":[0,4],"range":[0,204]},"axis":{"title":"FL1-H"}},"y":{"field":"y","type":"quantitative","scale":{"domain":[0,100]},"axis":{"title":"Counts"}}}},{"data":{"name":"g"},"mark":{"type":"rect","filled":false,"color":"#000","strokeWidth":1},"encoding":{"x":{"datum":0},"x2":{"datum":4},"y":{"datum":0},"y2":{"datum":38}}},{"data":{"name":"g"},"mark":{"type":"rect","fill":"#fff","stroke":"#000","strokeWidth":0.8,"cornerRadius":1.5},"encoding":{"x":{"datum":0.84},"x2":{"datum":1.1},"y":{"datum":88},"y2":{"datum":94}}}]},
{"width":236,"height":49.7,"data":{"values":[{"t":"700 nM"}]},"mark":{"type":"text","dx":-23,"dy":-5},"encoding":{"text":{"field":"t"}}},
{"width":203,"height":49.7,"data":{"name":"h"},"transform":[{"filter":"datum.p=='AR6'"}],"layer":[{"mark":{"type":"area","color":"#9b0000","stroke":"#000","strokeWidth":0.6},"encoding":{"x":{"field":"x","type":"quantitative","scale":{"domain":[0,4]},"axis":{"title":"FL1-H"}},"y":{"field":"y","type":"quantitative","scale":{"domain":[0,100]},"axis":{"title":"Counts"}}}},{"data":{"name":"g"},"mark":{"type":"rect","filled":false,"color":"#000","strokeWidth":1},"encoding":{"x":{"datum":0},"x2":{"datum":4},"y":{"datum":0},"y2":{"datum":38}}},{"data":{"name":"g"},"mark":{"type":"rect","fill":"#fff","stroke":"#000","strokeWidth":0.8,"cornerRadius":1.5},"encoding":{"x":{"datum":0.84},"x2":{"datum":1.1},"y":{"datum":88},"y2":{"datum":94}}}]},

{"width":1,"height":49.7,"data":{"values":[]},"mark":"point","encoding":{}},
{"width":222,"height":49.7,"data":{"name":"h"},"transform":[{"filter":"datum.p=='AL7'"}],"layer":[{"mark":{"type":"area","color":"#9b0000","stroke":"#000","strokeWidth":0.6},"encoding":{"x":{"field":"x","type":"quantitative","scale":{"domain":[0,4],"range":[0,204]},"axis":{"title":"FL1-H"}},"y":{"field":"y","type":"quantitative","scale":{"domain":[0,100]},"axis":{"title":"Counts"}}}},{"data":{"name":"g"},"mark":{"type":"rect","filled":false,"color":"#000","strokeWidth":1},"encoding":{"x":{"datum":0},"x2":{"datum":4},"y":{"datum":0},"y2":{"datum":38}}},{"data":{"name":"g"},"mark":{"type":"rect","fill":"#fff","stroke":"#000","strokeWidth":0.8,"cornerRadius":1.5},"encoding":{"x":{"datum":0.84},"x2":{"datum":1.1},"y":{"datum":88},"y2":{"datum":94}}}]},
{"width":236,"height":49.7,"data":{"values":[{"t":"2800 nM"}]},"mark":{"type":"text","dx":-23,"dy":-3},"encoding":{"text":{"field":"t"}}},
{"width":203,"height":49.7,"data":{"name":"h"},"transform":[{"filter":"datum.p=='AR7'"}],"layer":[{"mark":{"type":"area","color":"#9b0000","stroke":"#000","strokeWidth":0.6},"encoding":{"x":{"field":"x","type":"quantitative","scale":{"domain":[0,4]},"axis":{"title":"FL1-H"}},"y":{"field":"y","type":"quantitative","scale":{"domain":[0,100]},"axis":{"title":"Counts"}}}},{"data":{"name":"g"},"mark":{"type":"rect","filled":false,"color":"#000","strokeWidth":1},"encoding":{"x":{"datum":0},"x2":{"datum":4},"y":{"datum":0},"y2":{"datum":38}}},{"data":{"name":"g"},"mark":{"type":"rect","fill":"#fff","stroke":"#000","strokeWidth":0.8,"cornerRadius":1.5},"encoding":{"x":{"datum":0.84},"x2":{"datum":1.1},"y":{"datum":88},"y2":{"datum":94}}}]},

{"width":1,"height":190,"data":{"values":[]},"mark":"point","encoding":{}},
{"width":222,"height":190,"data":{"values":[]},"mark":"point","encoding":{}},
{"width":236,"height":190,"data":{"values":[]},"mark":"point","encoding":{}},
{"width":203,"height":190,"data":{"values":[]},"mark":"point","encoding":{}},

{"width":1,"height":50,"data":{"values":[]},"mark":"point","encoding":{},"title":{"text":"6B","anchor":"start","dx":42,"offset":67,"fontSize":17}},
{"width":222,"height":50,"title":{"text":["Human leukemia cell","line: THP-1"],"color":"#1a8a1a","lineHeight":21.5,"offset":5,"dx":-9},"data":{"name":"h"},"transform":[{"filter":"datum.p=='BL1'"}],"layer":[{"mark":{"type":"area","color":"#000099","stroke":"#000","strokeWidth":0.6},"encoding":{"x":{"field":"x","type":"quantitative","scale":{"domain":[0,4],"range":[19,222]},"axis":{"title":"FL1-H","titleX":30}},"y":{"field":"y","type":"quantitative","scale":{"domain":[0,100]},"axis":{"title":"Counts","offset":-19,"tickCount":4,"tickSize":3}}}},{"data":{"name":"g"},"mark":{"type":"rect","filled":false,"color":"#000","strokeWidth":1},"encoding":{"x":{"datum":0},"x2":{"datum":4},"y":{"datum":0},"y2":{"datum":38}}},{"data":{"name":"g"},"mark":{"type":"rect","fill":"#fff","stroke":"#000","strokeWidth":0.8,"cornerRadius":1.5},"encoding":{"x":{"datum":0.84},"x2":{"datum":1.1},"y":{"datum":88},"y2":{"datum":94}}}]},
{"width":236,"height":50,"title":{"text":["Competitor:","pCTLA-4-non-N-","Gly"],"lineHeight":20,"offset":-10,"dx":-14},"data":{"values":[{"t":"Cell alone"}]},"mark":{"type":"text","dx":-13,"dy":15},"encoding":{"text":{"field":"t"}}},
{"width":203,"height":50,"title":{"text":["Porcine B-cell","lymphoma cell line:","13271 5E4"],"color":"#2e3192","font":"Liberation Sans","fontSize":18,"lineHeight":22.5,"offset":-1,"dx":-12},"data":{"name":"h"},"transform":[{"filter":"datum.p=='BR1'"}],"layer":[{"mark":{"type":"area","color":"#000099","stroke":"#000","strokeWidth":0.6},"encoding":{"x":{"field":"x","type":"quantitative","scale":{"domain":[0,4],"range":[5,203]},"axis":{"title":"FL1-H","titleX":16}},"y":{"field":"y","type":"quantitative","scale":{"domain":[0,100]},"axis":{"title":"Counts","offset":-5}}}},{"data":{"name":"g"},"mark":{"type":"rect","filled":false,"color":"#000","strokeWidth":1},"encoding":{"x":{"datum":0},"x2":{"datum":4},"y":{"datum":0},"y2":{"datum":38}}},{"data":{"name":"g"},"mark":{"type":"rect","fill":"#fff","stroke":"#000","strokeWidth":0.8,"cornerRadius":1.5},"encoding":{"x":{"datum":0.84},"x2":{"datum":1.1},"y":{"datum":88},"y2":{"datum":94}}}]},

{"width":1,"height":50,"data":{"values":[]},"mark":"point","encoding":{}},
{"width":222,"height":50,"data":{"name":"h"},"transform":[{"filter":"datum.p=='BL2'"}],"layer":[{"mark":{"type":"area","color":"#000099","stroke":"#000","strokeWidth":0.6},"encoding":{"x":{"field":"x","type":"quantitative","scale":{"domain":[0,4],"range":[19,222]},"axis":{"title":"FL1-H","titleX":30}},"y":{"field":"y","type":"quantitative","scale":{"domain":[0,100]},"axis":{"title":"Counts","offset":-19}}}},{"data":{"name":"g"},"mark":{"type":"rect","filled":false,"color":"#000","strokeWidth":1},"encoding":{"x":{"datum":0},"x2":{"datum":4},"y":{"datum":0},"y2":{"datum":38}}},{"data":{"name":"g"},"mark":{"type":"rect","fill":"#fff","stroke":"#000","strokeWidth":0.8,"cornerRadius":1.5},"encoding":{"x":{"datum":0.84},"x2":{"datum":1.1},"y":{"datum":88},"y2":{"datum":94}}}]},
{"width":236,"height":50,"data":{"values":[{"t":"0 nM"}]},"mark":{"type":"text","dx":-13,"dy":8},"encoding":{"text":{"field":"t"}}},
{"width":203,"height":50,"data":{"name":"h"},"transform":[{"filter":"datum.p=='BR2'"}],"layer":[{"mark":{"type":"area","color":"#000099","stroke":"#000","strokeWidth":0.6},"encoding":{"x":{"field":"x","type":"quantitative","scale":{"domain":[0,4],"range":[5,203]},"axis":{"title":"FL1-H","titleX":16}},"y":{"field":"y","type":"quantitative","scale":{"domain":[0,100]},"axis":{"title":"Counts","offset":-5}}}},{"data":{"name":"g"},"mark":{"type":"rect","filled":false,"color":"#000","strokeWidth":1},"encoding":{"x":{"datum":0},"x2":{"datum":4},"y":{"datum":0},"y2":{"datum":38}}},{"data":{"name":"g"},"mark":{"type":"rect","fill":"#fff","stroke":"#000","strokeWidth":0.8,"cornerRadius":1.5},"encoding":{"x":{"datum":0.84},"x2":{"datum":1.1},"y":{"datum":88},"y2":{"datum":94}}}]},

{"width":1,"height":50,"data":{"values":[]},"mark":"point","encoding":{}},
{"width":222,"height":50,"data":{"name":"h"},"transform":[{"filter":"datum.p=='BL3'"}],"layer":[{"mark":{"type":"area","color":"#000099","stroke":"#000","strokeWidth":0.6},"encoding":{"x":{"field":"x","type":"quantitative","scale":{"domain":[0,4],"range":[19,222]},"axis":{"title":"FL1-H","titleX":30}},"y":{"field":"y","type":"quantitative","scale":{"domain":[0,100]},"axis":{"title":"Counts","offset":-19}}}},{"data":{"name":"g"},"mark":{"type":"rect","filled":false,"color":"#000","strokeWidth":1},"encoding":{"x":{"datum":0},"x2":{"datum":4},"y":{"datum":0},"y2":{"datum":38}}},{"data":{"name":"g"},"mark":{"type":"rect","fill":"#fff","stroke":"#000","strokeWidth":0.8,"cornerRadius":1.5},"encoding":{"x":{"datum":0.84},"x2":{"datum":1.1},"y":{"datum":88},"y2":{"datum":94}}}]},
{"width":236,"height":50,"data":{"values":[{"t":"0.7 nM"}]},"mark":{"type":"text","dx":-13,"dy":10},"encoding":{"text":{"field":"t"}}},
{"width":203,"height":50,"data":{"name":"h"},"transform":[{"filter":"datum.p=='BR3'"}],"layer":[{"mark":{"type":"area","color":"#000099","stroke":"#000","strokeWidth":0.6},"encoding":{"x":{"field":"x","type":"quantitative","scale":{"domain":[0,4],"range":[5,203]},"axis":{"title":"FL1-H","titleX":16}},"y":{"field":"y","type":"quantitative","scale":{"domain":[0,100]},"axis":{"title":"Counts","offset":-5}}}},{"data":{"name":"g"},"mark":{"type":"rect","filled":false,"color":"#000","strokeWidth":1},"encoding":{"x":{"datum":0},"x2":{"datum":4},"y":{"datum":0},"y2":{"datum":38}}},{"data":{"name":"g"},"mark":{"type":"rect","fill":"#fff","stroke":"#000","strokeWidth":0.8,"cornerRadius":1.5},"encoding":{"x":{"datum":0.84},"x2":{"datum":1.1},"y":{"datum":88},"y2":{"datum":94}}}]},

{"width":1,"height":50,"data":{"values":[]},"mark":"point","encoding":{}},
{"width":222,"height":50,"data":{"name":"h"},"transform":[{"filter":"datum.p=='BL4'"}],"layer":[{"mark":{"type":"area","color":"#000099","stroke":"#000","strokeWidth":0.6},"encoding":{"x":{"field":"x","type":"quantitative","scale":{"domain":[0,4],"range":[19,222]},"axis":{"title":"FL1-H","titleX":30}},"y":{"field":"y","type":"quantitative","scale":{"domain":[0,100]},"axis":{"title":"Counts","offset":-19}}}},{"data":{"name":"g"},"mark":{"type":"rect","filled":false,"color":"#000","strokeWidth":1},"encoding":{"x":{"datum":0},"x2":{"datum":4},"y":{"datum":0},"y2":{"datum":38}}},{"data":{"name":"g"},"mark":{"type":"rect","fill":"#fff","stroke":"#000","strokeWidth":0.8,"cornerRadius":1.5},"encoding":{"x":{"datum":0.84},"x2":{"datum":1.1},"y":{"datum":88},"y2":{"datum":94}}}]},
{"width":236,"height":50,"data":{"values":[{"t":"7 nM"}]},"mark":{"type":"text","dx":-13,"dy":5},"encoding":{"text":{"field":"t"}}},
{"width":203,"height":50,"data":{"name":"h"},"transform":[{"filter":"datum.p=='BR4'"}],"layer":[{"mark":{"type":"area","color":"#000099","stroke":"#000","strokeWidth":0.6},"encoding":{"x":{"field":"x","type":"quantitative","scale":{"domain":[0,4],"range":[5,203]},"axis":{"title":"FL1-H","titleX":16}},"y":{"field":"y","type":"quantitative","scale":{"domain":[0,100]},"axis":{"title":"Counts","offset":-5}}}},{"data":{"name":"g"},"mark":{"type":"rect","filled":false,"color":"#000","strokeWidth":1},"encoding":{"x":{"datum":0},"x2":{"datum":4},"y":{"datum":0},"y2":{"datum":38}}},{"data":{"name":"g"},"mark":{"type":"rect","fill":"#fff","stroke":"#000","strokeWidth":0.8,"cornerRadius":1.5},"encoding":{"x":{"datum":0.84},"x2":{"datum":1.1},"y":{"datum":88},"y2":{"datum":94}}}]},

{"width":1,"height":50,"data":{"values":[]},"mark":"point","encoding":{}},
{"width":222,"height":50,"data":{"name":"h"},"transform":[{"filter":"datum.p=='BL5'"}],"layer":[{"mark":{"type":"area","color":"#000099","stroke":"#000","strokeWidth":0.6},"encoding":{"x":{"field":"x","type":"quantitative","scale":{"domain":[0,4],"range":[19,222]},"axis":{"title":"FL1-H","titleX":30}},"y":{"field":"y","type":"quantitative","scale":{"domain":[0,100]},"axis":{"title":"Counts","offset":-19}}}},{"data":{"name":"g"},"mark":{"type":"rect","filled":false,"color":"#000","strokeWidth":1},"encoding":{"x":{"datum":0},"x2":{"datum":4},"y":{"datum":0},"y2":{"datum":38}}},{"data":{"name":"g"},"mark":{"type":"rect","fill":"#fff","stroke":"#000","strokeWidth":0.8,"cornerRadius":1.5},"encoding":{"x":{"datum":0.84},"x2":{"datum":1.1},"y":{"datum":88},"y2":{"datum":94}}}]},
{"width":236,"height":50,"data":{"values":[{"t":"70 nM"}]},"mark":{"type":"text","dx":-13,"dy":5},"encoding":{"text":{"field":"t"}}},
{"width":203,"height":50,"data":{"name":"h"},"transform":[{"filter":"datum.p=='BR5'"}],"layer":[{"mark":{"type":"area","color":"#000099","stroke":"#000","strokeWidth":0.6},"encoding":{"x":{"field":"x","type":"quantitative","scale":{"domain":[0,4],"range":[5,203]},"axis":{"title":"FL1-H","titleX":16}},"y":{"field":"y","type":"quantitative","scale":{"domain":[0,100]},"axis":{"title":"Counts","offset":-5}}}},{"data":{"name":"g"},"mark":{"type":"rect","filled":false,"color":"#000","strokeWidth":1},"encoding":{"x":{"datum":0},"x2":{"datum":4},"y":{"datum":0},"y2":{"datum":38}}},{"data":{"name":"g"},"mark":{"type":"rect","fill":"#fff","stroke":"#000","strokeWidth":0.8,"cornerRadius":1.5},"encoding":{"x":{"datum":0.84},"x2":{"datum":1.1},"y":{"datum":88},"y2":{"datum":94}}}]},

{"width":1,"height":50,"data":{"values":[]},"mark":"point","encoding":{}},
{"width":222,"height":50,"data":{"name":"h"},"transform":[{"filter":"datum.p=='BL6'"}],"layer":[{"mark":{"type":"area","color":"#000099","stroke":"#000","strokeWidth":0.6},"encoding":{"x":{"field":"x","type":"quantitative","scale":{"domain":[0,4],"range":[19,222]},"axis":{"title":"FL1-H","titleX":30}},"y":{"field":"y","type":"quantitative","scale":{"domain":[0,100]},"axis":{"title":"Counts","offset":-19}}}},{"data":{"name":"g"},"mark":{"type":"rect","filled":false,"color":"#000","strokeWidth":1},"encoding":{"x":{"datum":0},"x2":{"datum":4},"y":{"datum":0},"y2":{"datum":38}}},{"data":{"name":"g"},"mark":{"type":"rect","fill":"#fff","stroke":"#000","strokeWidth":0.8,"cornerRadius":1.5},"encoding":{"x":{"datum":0.84},"x2":{"datum":1.1},"y":{"datum":88},"y2":{"datum":94}}}]},
{"width":236,"height":50,"data":{"values":[{"t":"700 nM"}]},"mark":{"type":"text","dx":-13,"dy":8},"encoding":{"text":{"field":"t"}}},
{"width":203,"height":50,"data":{"name":"h"},"transform":[{"filter":"datum.p=='BR6'"}],"layer":[{"mark":{"type":"area","color":"#000099","stroke":"#000","strokeWidth":0.6},"encoding":{"x":{"field":"x","type":"quantitative","scale":{"domain":[0,4],"range":[5,203]},"axis":{"title":"FL1-H","titleX":16}},"y":{"field":"y","type":"quantitative","scale":{"domain":[0,100]},"axis":{"title":"Counts","offset":-5}}}},{"data":{"name":"g"},"mark":{"type":"rect","filled":false,"color":"#000","strokeWidth":1},"encoding":{"x":{"datum":0},"x2":{"datum":4},"y":{"datum":0},"y2":{"datum":38}}},{"data":{"name":"g"},"mark":{"type":"rect","fill":"#fff","stroke":"#000","strokeWidth":0.8,"cornerRadius":1.5},"encoding":{"x":{"datum":0.84},"x2":{"datum":1.1},"y":{"datum":88},"y2":{"datum":94}}}]},

{"width":1,"height":50,"data":{"values":[]},"mark":"point","encoding":{}},
{"width":222,"height":50,"data":{"name":"h"},"transform":[{"filter":"datum.p=='BL7'"}],"layer":[{"mark":{"type":"area","color":"#000099","stroke":"#000","strokeWidth":0.6},"encoding":{"x":{"field":"x","type":"quantitative","scale":{"domain":[0,4],"range":[19,222]},"axis":{"title":"FL1-H","titleX":30}},"y":{"field":"y","type":"quantitative","scale":{"domain":[0,100]},"axis":{"title":"Counts","offset":-19}}}},{"data":{"name":"g"},"mark":{"type":"rect","filled":false,"color":"#000","strokeWidth":1},"encoding":{"x":{"datum":0},"x2":{"datum":4},"y":{"datum":0},"y2":{"datum":38}}},{"data":{"name":"g"},"mark":{"type":"rect","fill":"#fff","stroke":"#000","strokeWidth":0.8,"cornerRadius":1.5},"encoding":{"x":{"datum":0.84},"x2":{"datum":1.1},"y":{"datum":88},"y2":{"datum":94}}}]},
{"width":236,"height":50,"data":{"values":[{"t":"2600 nM"}]},"mark":{"type":"text","dx":-13,"dy":8},"encoding":{"text":{"field":"t"}}},
{"width":203,"height":50,"data":{"name":"h"},"transform":[{"filter":"datum.p=='BR7'"}],"layer":[{"mark":{"type":"area","color":"#000099","stroke":"#000","strokeWidth":0.6},"encoding":{"x":{"field":"x","type":"quantitative","scale":{"domain":[0,4],"range":[5,203]},"axis":{"title":"FL1-H","titleX":16}},"y":{"field":"y","type":"quantitative","scale":{"domain":[0,100]},"axis":{"title":"Counts","offset":-5}}}},{"data":{"name":"g"},"mark":{"type":"rect","filled":false,"color":"#000","strokeWidth":1},"encoding":{"x":{"datum":0},"x2":{"datum":4},"y":{"datum":0},"y2":{"datum":38}}},{"data":{"name":"g"},"mark":{"type":"rect","fill":"#fff","stroke":"#000","strokeWidth":0.8,"cornerRadius":1.5},"encoding":{"x":{"datum":0.84},"x2":{"datum":1.1},"y":{"datum":88},"y2":{"datum":94}}}]}
]
}
